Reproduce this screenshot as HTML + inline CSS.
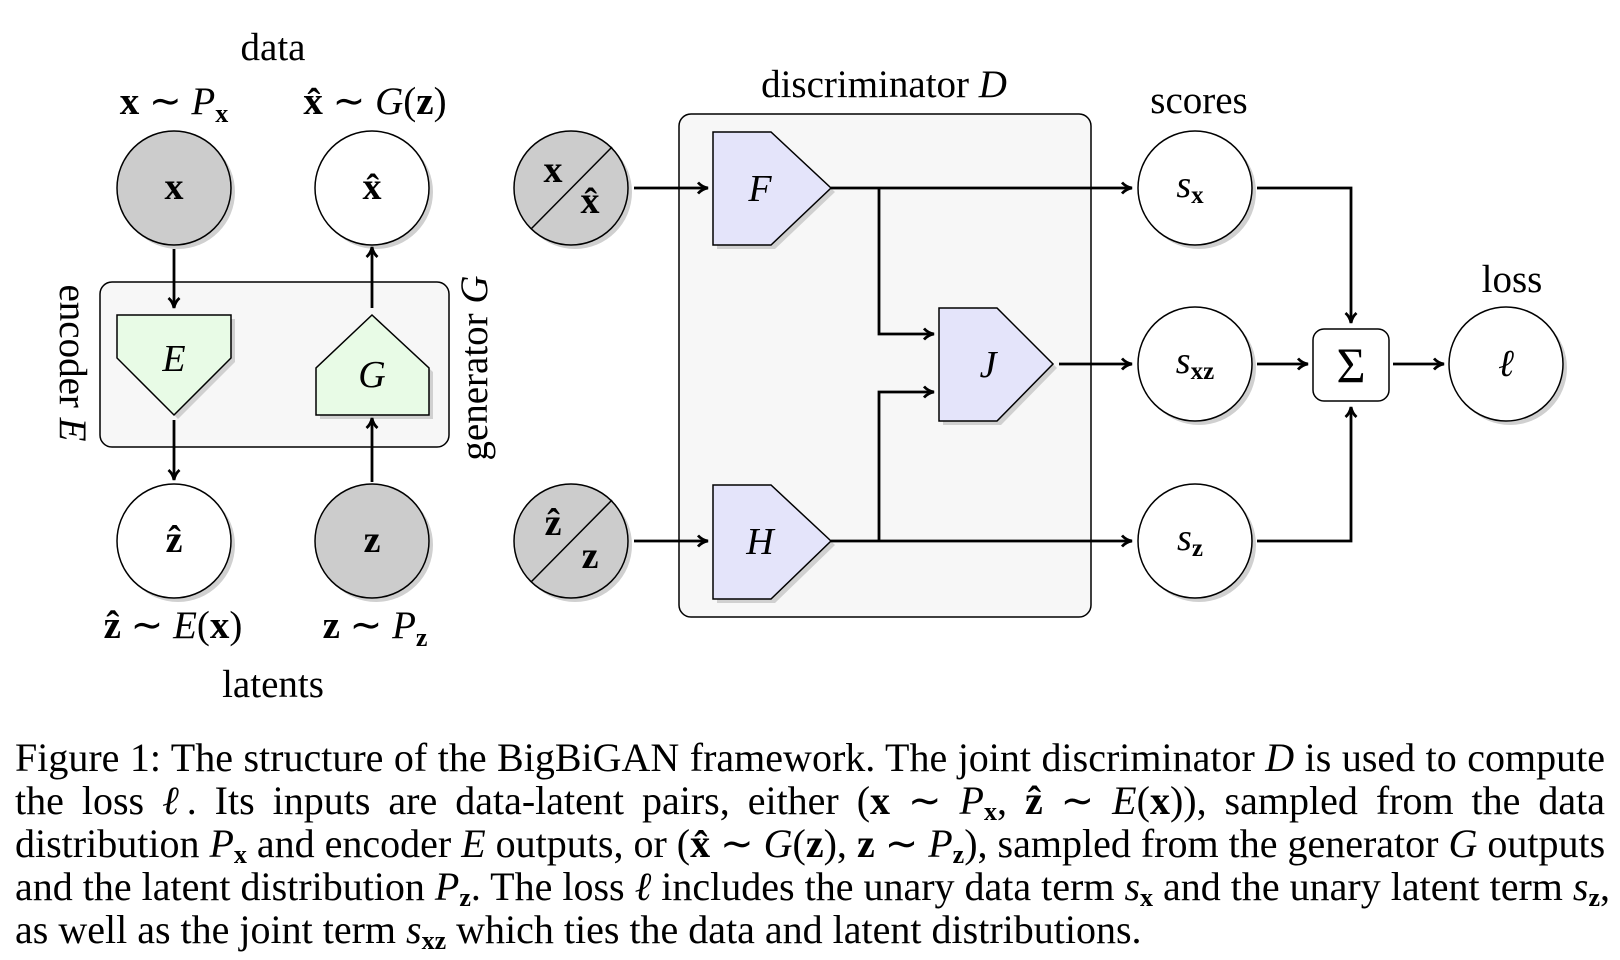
<!DOCTYPE html>
<html><head><meta charset="utf-8"><style>
html,body{margin:0;padding:0;background:#fff;width:1620px;height:960px;overflow:hidden}
svg{position:absolute;left:0;top:0}
text{font-family:"Liberation Serif",serif;fill:#000}
.cap{position:absolute;left:15px;width:1590px;font-family:"Liberation Serif",serif;font-size:40px;line-height:43px;top:736px;color:#000}
.cap div{text-align:justify;text-align-last:justify;white-space:nowrap;height:43px}
.cap div.last{text-align-last:left}
.cap i{font-style:italic}
sub{font-size:26px;vertical-align:-6px;line-height:0;font-weight:bold;font-style:normal}
</style></head><body>
<svg width="1620" height="960" viewBox="0 0 1620 960">
<defs>
<marker id="a" markerWidth="14" markerHeight="14" refX="12" refY="7" orient="auto" markerUnits="userSpaceOnUse">
<path d="M2,1.5 Q6,6 12,7 Q6,8 2,12.5" fill="none" stroke="#000" stroke-width="2.8"/>
</marker>
</defs>
<rect x="100" y="282" width="349" height="165" rx="12" fill="#f7f7f7" stroke="#000" stroke-width="1.5"/>
<rect x="679" y="114" width="412" height="503" rx="12" fill="#f7f7f7" stroke="#000" stroke-width="1.5"/>
<g font-size="39" text-anchor="middle">
<text x="273" y="60">data</text>
<text x="273" y="697">latents</text>
<text x="884" y="97">discriminator <tspan font-style="italic">D</tspan></text>
<text x="1199" y="113">scores</text>
<text x="1512" y="292">loss</text>
<text x="174" y="114"><tspan font-weight="bold">x</tspan> ∼ <tspan font-style="italic">P</tspan><tspan font-weight="bold" font-size="26" dy="8">x</tspan></text>
<text x="375" y="114"><tspan font-weight="bold">x̂</tspan> ∼ <tspan font-style="italic">G</tspan>(<tspan font-weight="bold">z</tspan>)</text>
<text x="173" y="638"><tspan font-weight="bold">ẑ</tspan> ∼ <tspan font-style="italic">E</tspan>(<tspan font-weight="bold">x</tspan>)</text>
<text x="375" y="638"><tspan font-weight="bold">z</tspan> ∼ <tspan font-style="italic">P</tspan><tspan font-weight="bold" font-size="26" dy="8">z</tspan></text>
<text transform="translate(60,363) rotate(90)">encoder <tspan font-style="italic">E</tspan></text>
<text transform="translate(487,368) rotate(-90)">generator <tspan font-style="italic">G</tspan></text>
</g>
<g fill="#d0d0d0">
<circle cx="178" cy="192" r="57"/><circle cx="376" cy="192" r="57"/>
<circle cx="178" cy="545" r="57"/><circle cx="376" cy="545" r="57"/>
<circle cx="575" cy="192" r="57"/><circle cx="575" cy="545" r="57"/>
<circle cx="1199" cy="192" r="57"/><circle cx="1199" cy="368" r="57"/><circle cx="1199" cy="545" r="57"/>
<circle cx="1510" cy="368" r="57"/>
<polygon points="121,319 235,319 235,362 178,419 121,362"/>
<polygon points="376,319 433,372 433,419 320,419 320,372"/>
<polygon points="717,136 775,136 835,192 775,249 717,249"/>
<polygon points="717,489 775,489 835,545 775,603 717,603"/>
<polygon points="943,312 1001,312 1057,368 1001,425 943,425"/>
</g>
<g stroke="#000" stroke-width="1.5">
<circle cx="174" cy="188" r="57" fill="#cccccc"/>
<circle cx="372" cy="188" r="57" fill="#fff"/>
<circle cx="174" cy="541" r="57" fill="#fff"/>
<circle cx="372" cy="541" r="57" fill="#cccccc"/>
<circle cx="571" cy="188" r="57" fill="#cccccc"/>
<circle cx="571" cy="541" r="57" fill="#cccccc"/>
<line x1="531" y1="229" x2="612" y2="147"/>
<line x1="531" y1="582" x2="612" y2="500"/>
<circle cx="1195" cy="188" r="57" fill="#fff"/>
<circle cx="1195" cy="364" r="57" fill="#fff"/>
<circle cx="1195" cy="541" r="57" fill="#fff"/>
<circle cx="1506" cy="364" r="57" fill="#fff"/>
<rect x="1313" y="329" width="76" height="72" rx="11" fill="#fff"/>
<polygon points="117,315 231,315 231,358 174,415 117,358" fill="#e8fbe6"/>
<polygon points="372,315 429,368 429,415 316,415 316,368" fill="#e8fbe6"/>
<polygon points="713,132 771,132 831,188 771,245 713,245" fill="#e4e4fa"/>
<polygon points="713,485 771,485 831,541 771,599 713,599" fill="#e4e4fa"/>
<polygon points="939,308 997,308 1053,364 997,421 939,421" fill="#e4e4fa"/>
</g>
<g font-size="38" text-anchor="middle">
<text x="174" y="199" font-weight="bold">x</text>
<text x="372" y="199" font-weight="bold">x̂</text>
<text x="174" y="552" font-weight="bold">ẑ</text>
<text x="372" y="552" font-weight="bold">z</text>
<text x="553" y="182" font-weight="bold">x</text>
<text x="590" y="213" font-weight="bold">x̂</text>
<text x="553" y="535" font-weight="bold">ẑ</text>
<text x="590" y="568" font-weight="bold">z</text>
<text x="174" y="371" font-style="italic">E</text>
<text x="372" y="387" font-style="italic">G</text>
<text x="760" y="201" font-style="italic">F</text>
<text x="760" y="554" font-style="italic">H</text>
<text x="988" y="377" font-style="italic">J</text>
<text x="1190" y="197" font-style="italic">s<tspan font-style="normal" font-weight="bold" font-size="25" dy="6">x</tspan></text>
<text x="1195" y="373" font-style="italic">s<tspan font-style="normal" font-weight="bold" font-size="25" dy="6">xz</tspan></text>
<text x="1190" y="550" font-style="italic">s<tspan font-style="normal" font-weight="bold" font-size="25" dy="6">z</tspan></text>
<text x="1506" y="376" font-style="italic">ℓ</text>
<text x="1351" y="382" font-size="50">Σ</text>
</g>
<g stroke="#000" stroke-width="2.8" fill="none" marker-end="url(#a)">
<line x1="174" y1="249" x2="174" y2="308"/>
<line x1="174" y1="420" x2="174" y2="480"/>
<line x1="372" y1="482" x2="372" y2="418"/>
<line x1="372" y1="308" x2="372" y2="247"/>
<line x1="634" y1="188" x2="708" y2="188"/>
<line x1="634" y1="541" x2="708" y2="541"/>
<line x1="831" y1="188" x2="1132" y2="188"/>
<line x1="831" y1="541" x2="1132" y2="541"/>
<polyline points="879,188 879,334 934,334"/>
<polyline points="879,541 879,392 934,392"/>
<line x1="1059" y1="364" x2="1132" y2="364"/>
<polyline points="1257,188 1351,188 1351,323"/>
<polyline points="1257,541 1351,541 1351,407"/>
<line x1="1257" y1="364" x2="1308" y2="364"/>
<line x1="1393" y1="364" x2="1444" y2="364"/>
</g>
</svg>
<div class="cap">
<div>Figure 1: The structure of the BigBiGAN framework. The joint discriminator <i>D</i> is used to compute</div>
<div>the loss <i>ℓ</i>. Its inputs are data-latent pairs, either (<b>x</b> ∼ <i>P</i><sub>x</sub>, <b>ẑ</b> ∼ <i>E</i>(<b>x</b>)), sampled from the data</div>
<div>distribution <i>P</i><sub>x</sub> and encoder <i>E</i> outputs, or (<b>x̂</b> ∼ <i>G</i>(<b>z</b>), <b>z</b> ∼ <i>P</i><sub>z</sub>), sampled from the generator <i>G</i> outputs</div>
<div>and the latent distribution <i>P</i><sub>z</sub>. The loss <i>ℓ</i> includes the unary data term <i>s</i><sub>x</sub> and the unary latent term <i>s</i><sub>z</sub>,</div>
<div class="last">as well as the joint term <i>s</i><sub>xz</sub> which ties the data and latent distributions.</div>
</div>
</body></html>
